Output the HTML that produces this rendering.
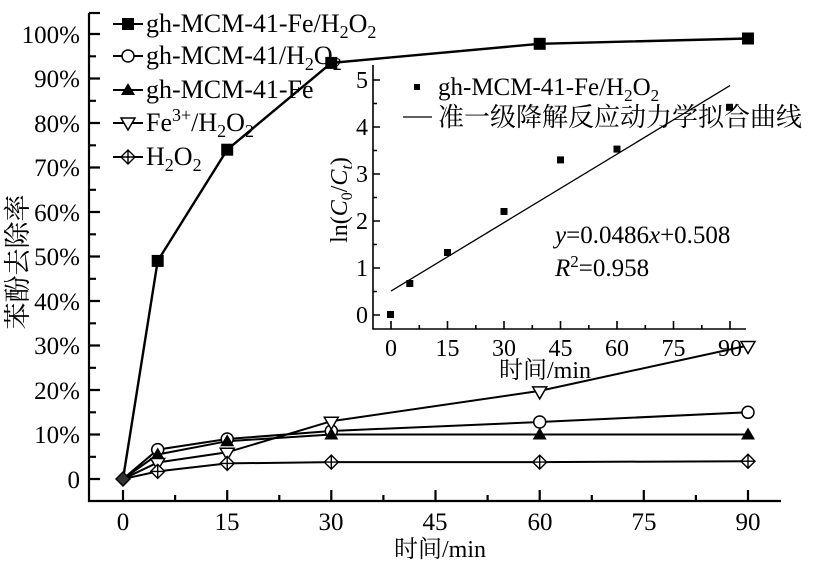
<!DOCTYPE html>
<html><head><meta charset="utf-8"><style>
html,body{margin:0;padding:0;background:#fff;}
svg{display:block;font-family:"Liberation Serif","Noto Serif CJK SC",serif;}
</style></head><body>
<svg width="813" height="569" viewBox="0 0 813 569" xmlns="http://www.w3.org/2000/svg">
<rect width="813" height="569" fill="#fff"/>
<g stroke="#000" stroke-width="2.2" fill="none">
<path d="M89,13 V501 H781"/>
<path d="M89,13 H100"/>
<path d="M89,34.0H100M89,78.5H100M89,123H100M89,167.5H100M89,212H100M89,256.5H100M89,301H100M89,345.5H100M89,390H100M89,434.5H100M89,479H100"/>
<path d="M89,56.3H96M89,100.8H96M89,145.3H96M89,189.8H96M89,234.3H96M89,278.8H96M89,323.3H96M89,367.8H96M89,412.3H96M89,456.8H96"/>
<path d="M123,501V490M227.2,501V490M331.3,501V490M435.5,501V490M539.7,501V490M643.8,501V490M748,501V490"/>
<path d="M175.1,501V495M279.3,501V495M383.4,501V495M487.6,501V495M591.8,501V495M695.9,501V495"/>
</g>
<g font-size="25" fill="#000" text-anchor="end">
<text x="80" y="43">100%</text><text x="80" y="87">90%</text><text x="80" y="132">80%</text><text x="80" y="176">70%</text><text x="80" y="221">60%</text><text x="80" y="265">50%</text><text x="80" y="310">40%</text><text x="80" y="354">30%</text><text x="80" y="399">20%</text><text x="80" y="443">10%</text><text x="80" y="488">0</text>
</g>
<g font-size="25" fill="#000" text-anchor="middle">
<text x="123" y="530">0</text><text x="227" y="530">15</text><text x="331" y="530">30</text><text x="435" y="530">45</text><text x="540" y="530">60</text><text x="644" y="530">75</text><text x="748" y="530">90</text>
<text x="440" y="557" font-size="24">时间/min</text>
<text transform="translate(27,262) rotate(-90)" font-size="27">苯酚去除率</text>
</g>
<g stroke="#000" stroke-width="2" fill="none">
<polyline points="123,479 157.7,260.9 227.2,149.7 331.3,62.9 539.7,43.8 748,38.5" stroke-width="2.4"/>
<polyline points="123,479 157.7,449.6 227.2,439 331.3,431 539.7,422 748,412.3"/>
<polyline points="123,479 157.7,454.5 227.2,441.2 331.3,434.5 539.7,434.5 748,434.5"/>
<polyline points="123,479 157.7,462.5 227.2,452.3 331.3,421.2 539.7,390.9 748,345.5"/>
<polyline points="123,479 157.7,471.4 227.2,463.4 331.3,462.1 539.7,462.1 748,461.2"/>
</g>
<g fill="#000">
<rect x="151.7" y="254.9" width="12" height="12"/><rect x="221.2" y="143.7" width="12" height="12"/><rect x="325.3" y="56.9" width="12" height="12"/><rect x="533.7" y="37.8" width="12" height="12"/><rect x="742" y="32.5" width="12" height="12"/>
</g>
<g fill="#fff" stroke="#000" stroke-width="1.5">
<circle cx="157.7" cy="449.6" r="6"/><circle cx="227.2" cy="439" r="6"/><circle cx="331.3" cy="431" r="6"/><circle cx="539.7" cy="422" r="6"/><circle cx="748" cy="412.3" r="6"/>
</g>
<g fill="#000">
<path d="M157.7,447.5l7,12h-14z"/><path d="M227.2,434.2l7,12h-14z"/><path d="M331.3,427.5l7,12h-14z"/><path d="M539.7,427.5l7,12h-14z"/><path d="M748,427.5l7,12h-14z"/>
</g>
<g fill="#fff" stroke="#000" stroke-width="1.5">
<path d="M150.7,458.5h14l-7,12z"/><path d="M220.2,448.3h14l-7,12z"/><path d="M324.3,417.2h14l-7,12z"/><path d="M532.7,386.9h14l-7,12z"/><path d="M741,341.5h14l-7,12z"/>
</g>
<g fill="#fff" stroke="#000" stroke-width="1.4">
<path d="M157.7,464.4l7,7l-7,7l-7-7zM150.7,471.4h14M157.7,464.4v14"/>
<path d="M227.2,456.4l7,7l-7,7l-7-7zM220.2,463.4h14M227.2,456.4v14"/>
<path d="M331.3,455.1l7,7l-7,7l-7-7zM324.3,462.1h14M331.3,455.1v14"/>
<path d="M539.7,455.1l7,7l-7,7l-7-7zM532.7,462.1h14M539.7,455.1v14"/>
<path d="M748,454.2l7,7l-7,7l-7-7zM741,461.2h14M748,454.2v14"/>
</g>
<g fill="#333" stroke="#000" stroke-width="1.4"><path d="M123,472l7,7l-7,7l-7-7z"/></g>
<g stroke="#000" stroke-width="2" fill="none">
<path d="M113,24H143M113,56H143M113,90H143M113,123H143M113,157H143"/>
</g>
<rect x="122" y="18" width="12" height="12" fill="#000"/>
<circle cx="128" cy="56" r="6" fill="#fff" stroke="#000" stroke-width="1.5"/>
<path d="M128,83l7,12h-14z" fill="#000"/>
<path d="M121,118h14l-7,12z" fill="#fff" stroke="#000" stroke-width="1.5"/>
<path d="M128,150l7,7l-7,7l-7-7zM121,157h14M128,150v14" fill="#fff" stroke="#000" stroke-width="1.4"/>
<g font-size="26" fill="#000">
<text x="146" y="32">gh-MCM-41-Fe/H<tspan font-size="18" dy="6">2</tspan><tspan dy="-6">O</tspan><tspan font-size="18" dy="6">2</tspan></text>
<text x="146" y="64">gh-MCM-41/H<tspan font-size="18" dy="6">2</tspan><tspan dy="-6">O</tspan><tspan font-size="18" dy="6">2</tspan></text>
<text x="146" y="98">gh-MCM-41-Fe</text>
<text x="146" y="131">Fe<tspan font-size="18" dy="-10">3+</tspan><tspan dy="10">/H</tspan><tspan font-size="18" dy="6">2</tspan><tspan dy="-6">O</tspan><tspan font-size="18" dy="6">2</tspan></text>
<text x="146" y="165">H<tspan font-size="18" dy="6">2</tspan><tspan dy="-6">O</tspan><tspan font-size="18" dy="6">2</tspan></text>
</g>
<g stroke="#000" stroke-width="1.6" fill="none">
<path d="M373,65V329H746"/>
<path d="M373,315H380M373,268H380M373,221H380M373,174H380M373,127H380M373,80H380"/>
<path d="M373,291.5H377M373,244.5H377M373,197.5H377M373,150.5H377M373,103.5H377"/>
<path d="M391,329V321M447.5,329V321M504,329V321M560.5,329V321M617,329V321M673.5,329V321M730,329V321"/>
<path d="M419.3,329V325M475.8,329V325M532.3,329V325M588.8,329V325M645.3,329V325M701.8,329V325"/>
<path d="M391,291.1L730,85.6" stroke-width="1.3"/>
<path d="M403,117H432" stroke-width="1.3"/>
</g>
<g fill="#000">
<rect x="387" y="311" width="7" height="7"/><rect x="406.3" y="280" width="7" height="7"/><rect x="444" y="249" width="7" height="7"/><rect x="500.5" y="208" width="7" height="7"/><rect x="557" y="156.4" width="7" height="7"/><rect x="613.5" y="145.6" width="7" height="7"/><rect x="726" y="103.8" width="7" height="7"/>
<rect x="414" y="84" width="6" height="6"/>
</g>
<g font-size="24" fill="#000" text-anchor="end">
<text x="368" y="323">0</text><text x="368" y="276">1</text><text x="368" y="229">2</text><text x="368" y="182">3</text><text x="368" y="135">4</text><text x="368" y="88">5</text>
</g>
<g font-size="24" fill="#000" text-anchor="middle">
<text x="391" y="356">0</text><text x="447.5" y="356">15</text><text x="504" y="356">30</text><text x="560.5" y="356">45</text><text x="617" y="356">60</text><text x="673.5" y="356">75</text><text x="730" y="356">90</text>
<text x="545" y="378">时间/min</text>
<text transform="translate(347,200) rotate(-90)">ln(<tspan font-style="italic">C</tspan><tspan font-size="16" dy="5">0</tspan><tspan dy="-5">/</tspan><tspan font-style="italic">C</tspan><tspan font-size="16" dy="5" font-style="italic">t</tspan><tspan dy="-5">)</tspan></text>
</g>
<g font-size="25" fill="#000">
<text x="438" y="95">gh-MCM-41-Fe/H<tspan font-size="17" dy="6">2</tspan><tspan dy="-6">O</tspan><tspan font-size="17" dy="6">2</tspan></text>
<text x="438" y="126" font-size="26" font-family="'Noto Serif CJK SC','Liberation Serif',serif">准一级降解反应动力学拟合曲线</text>
<text x="555" y="243"><tspan font-style="italic">y</tspan>=0.0486<tspan font-style="italic">x</tspan>+0.508</text>
<text x="555" y="276"><tspan font-style="italic">R</tspan><tspan font-size="17" dy="-9">2</tspan><tspan dy="9">=0.958</tspan></text>
</g>
</svg>
</body></html>
